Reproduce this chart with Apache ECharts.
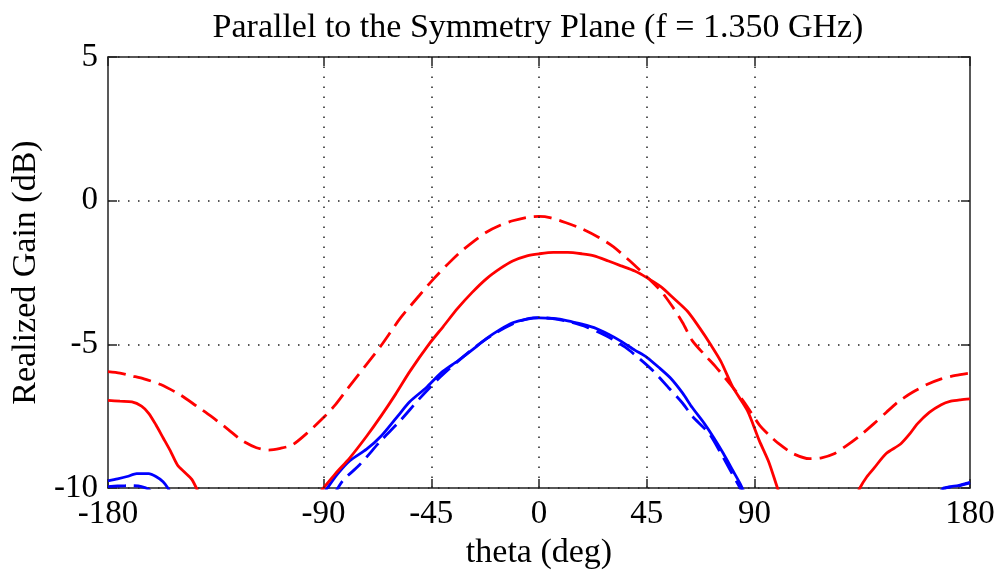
<!DOCTYPE html>
<html>
<head>
<meta charset="utf-8">
<script src="https://cdn.jsdelivr.net/npm/echarts@6/dist/echarts.min.js"></script>
<style>
html,body{margin:0;padding:0;background:#fff;}
#chart{width:1003px;height:578px;}
</style>
</head>
<body>
<div id="chart"></div>
<script>
// ---- data (theta in deg, realized gain in dB; null = break / off-scale) ----
var xTicks = [-180, -90, -45, 0, 45, 90, 180];
var yTicks = [5, 0, -5, -10];

var redDashTheta = [-180,-175,-170,-165,-158,-150,-143,-137,-130,-124,-118,-113,-108,-103,-97,-90,-85,-80,-73,-66,-58,-50,-44,-38,-33,-27,-22,-16,-11,-5,0,5,11,18,25,31,38,46,51,56,60,64,69,74,80,86,92,96,100,106,113,118,123,128,134,140,145,150,156,162,168,174,180];
var redDashGain  = [-5.95,-6.0,-6.1,-6.2,-6.4,-6.75,-7.15,-7.5,-7.95,-8.35,-8.6,-8.68,-8.62,-8.5,-8.1,-7.55,-7.1,-6.55,-5.8,-5.05,-4.1,-3.3,-2.72,-2.2,-1.8,-1.4,-1.1,-0.85,-0.7,-0.58,-0.55,-0.6,-0.76,-0.98,-1.28,-1.6,-2.1,-2.73,-3.15,-3.72,-4.25,-4.87,-5.35,-5.8,-6.4,-7.05,-7.8,-8.15,-8.45,-8.8,-8.98,-8.95,-8.82,-8.55,-8.18,-7.75,-7.37,-7.0,-6.67,-6.4,-6.2,-6.08,-6.0];

var redSolidTheta = [-180,-175,-170,-166,-163,-160,-157,-154,-151,-148,-145,-142,-120,-93,-91,-85,-79,-72,-66,-60,-54,-46,-40,-34,-28,-22,-16,-11,-5,0,6,12,18,23,29,34,40,45,51,56,62,67,72,76,81,87,92,96,100,102,120,132,134,137,140,145,151,155,158,163,168,172,176,180];
var redSolidGain  = [-6.95,-6.98,-7.0,-7.15,-7.4,-7.8,-8.25,-8.7,-9.2,-9.45,-9.7,-10.2,null,-10.3,-10.1,-9.5,-8.95,-8.2,-7.5,-6.75,-5.95,-5.0,-4.38,-3.75,-3.2,-2.72,-2.35,-2.1,-1.92,-1.85,-1.8,-1.8,-1.85,-1.92,-2.1,-2.26,-2.45,-2.68,-3.0,-3.38,-3.85,-4.42,-5.05,-5.6,-6.5,-7.3,-8.35,-9.1,-10.1,-10.5,null,-10.4,-10.0,-9.6,-9.3,-8.8,-8.47,-8.1,-7.77,-7.37,-7.1,-6.98,-6.93,-6.9];

var blueSolidTheta = [-180,-176,-172,-168,-163,-160,-157,-155,-153,-120,-91,-88,-84,-79,-72,-66,-59,-54,-47,-41,-34,-26,-22,-16,-11,-5,0,6,12,18,23,29,34,40,45,50,55,60,64,69,73,77,81,84,86,120,166,169,172,175,178,180];
var blueSolidGain  = [-9.75,-9.68,-9.6,-9.5,-9.5,-9.6,-9.78,-10.0,-10.3,null,-10.3,-9.95,-9.5,-9.05,-8.65,-8.2,-7.5,-7.0,-6.5,-6.0,-5.58,-5.07,-4.8,-4.47,-4.25,-4.12,-4.08,-4.1,-4.18,-4.3,-4.42,-4.65,-4.88,-5.2,-5.45,-5.8,-6.18,-6.7,-7.2,-7.75,-8.25,-8.8,-9.4,-9.85,-10.2,null,-10.3,-10.0,-9.95,-9.92,-9.85,-9.8];

var blueDashTheta = [-180,-176,-170,-166,-163,-160,-120,-86,-82,-75,-66,-58,-50,-42,-34,-26,-18,-10,-4,0,5,12,20,28,36,42,48,54,60,64,71,76,80,84,86,120,166,170,175,180];
var blueDashGain  = [-9.95,-9.93,-9.92,-9.95,-10.05,-10.3,null,-10.3,-9.75,-9.2,-8.35,-7.66,-6.9,-6.2,-5.6,-5.05,-4.6,-4.25,-4.1,-4.07,-4.1,-4.2,-4.4,-4.7,-5.1,-5.5,-5.95,-6.5,-7.05,-7.5,-8.1,-8.8,-9.4,-10.0,-10.3,null,-10.3,-10.0,-9.93,-9.82];

var xGridValues = [-90, -45, 0, 45, 90];

function pairs(t, g) {
  return t.map(function (v, i) { return [v, g[i] === null ? '-' : g[i]]; });
}

var FONT = '"Liberation Serif", "Times New Roman", serif';
var AXC = '#222';

var chart = echarts.init(document.getElementById('chart'), null, {renderer: 'canvas'});

var xAxisBase = {
  type: 'value', min: -180, max: 180, interval: 45,
  axisLine: {show: true, onZero: false, lineStyle: {color: AXC, width: 1.5}},
  splitLine: {show: false}
};
var yAxisBase = {
  type: 'value', min: -10, max: 5, interval: 5,
  axisLine: {show: true, onZero: false, lineStyle: {color: AXC, width: 1.5}},
  axisTick: {show: true, inside: true, length: 9, lineStyle: {color: AXC, width: 1.5}}
};

function lineSeries(name, t, g, color, type, z) {
  return {
    name: name, type: 'line', data: pairs(t, g),
    showSymbol: false, symbol: 'none', connectNulls: false, clip: true, smooth: 0.25,
    lineStyle: {color: color, width: 2.8, type: type}, z: z
  };
}

var option = {
  backgroundColor: '#fff',
  animation: false,
  title: {
    text: 'Parallel to the Symmetry Plane (f = 1.350 GHz)',
    left: 533, top: 6, textAlign: 'center',
    textStyle: {fontFamily: FONT, fontSize: 34, fontWeight: 'normal', color: '#000'}
  },
  grid: {left: 108, right: 33, top: 57, bottom: 90, containLabel: false},
  xAxis: [
    Object.assign({}, xAxisBase, {
      position: 'bottom',
      name: 'theta (deg)', nameLocation: 'middle', nameGap: 44,
      nameTextStyle: {fontFamily: FONT, fontSize: 34, color: '#000'},
      axisTick: {show: true, inside: true, length: 9, customValues: xTicks, lineStyle: {color: AXC, width: 1.5}},
      axisLabel: {show: true, margin: 10, customValues: xTicks, fontFamily: FONT, fontSize: 33, color: '#000',
        formatter: function (v) { return xTicks.indexOf(v) >= 0 ? String(v) : ''; }}
    }),
    Object.assign({}, xAxisBase, {
      position: 'top',
      axisTick: {show: true, inside: true, length: 9, customValues: xTicks, lineStyle: {color: AXC, width: 1.5}},
      axisLabel: {show: false}
    })
  ],
  yAxis: [
    Object.assign({}, yAxisBase, {
      position: 'left',
      name: 'Realized Gain (dB)', nameLocation: 'middle', nameGap: 64,
      nameTextStyle: {fontFamily: FONT, fontSize: 34, color: '#000'},
      axisLabel: {show: true, margin: 10, fontFamily: FONT, fontSize: 33, color: '#000',
        formatter: function (v) { return String(v); }},
      splitLine: {show: true, lineStyle: {color: '#222', width: 1.5, type: [1.5, 8.5]}}
    }),
    Object.assign({}, yAxisBase, {
      position: 'right',
      axisLabel: {show: false},
      splitLine: {show: false}
    })
  ],
  series: [
    {
      name: 'grid', type: 'line', data: [], silent: true,
      markLine: {
        silent: true, symbol: 'none', label: {show: false},
        lineStyle: {color: '#222', width: 1.5, type: [1.5, 8.5]},
        data: xGridValues.map(function (v) { return {xAxis: v}; })
      }
    },
    lineSeries('Blue dashed', blueDashTheta, blueDashGain, '#0000ff', [18, 8], 3),
    lineSeries('Blue solid', blueSolidTheta, blueSolidGain, '#0000ff', 'solid', 4),
    lineSeries('Red dashed', redDashTheta, redDashGain, '#ff0000', [18, 8], 3),
    lineSeries('Red solid', redSolidTheta, redSolidGain, '#ff0000', 'solid', 4)
  ]
};
chart.setOption(option);
</script>
</body>
</html>
